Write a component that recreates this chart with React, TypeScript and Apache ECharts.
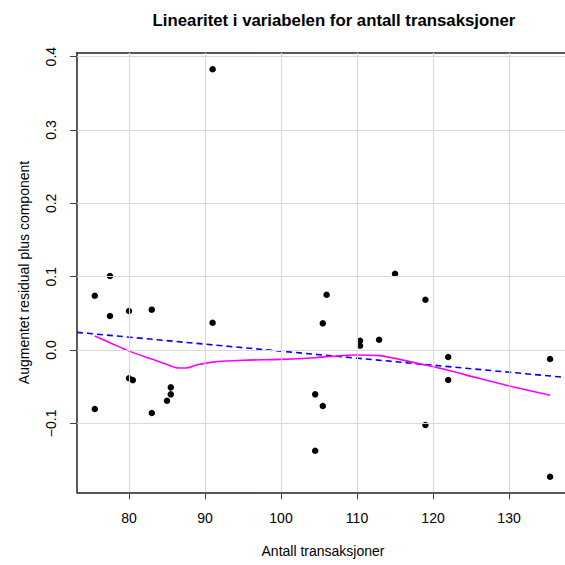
import React, { useEffect, useRef } from "react";
import * as echarts from "echarts";

// Observations: number of transactions vs. augmented component + residual
const transactions = [
  75.5, 75.5, 77.5, 77.5, 80.0, 80.0, 80.5, 83.0, 83.0, 85.0, 85.5, 85.5,
  91.0, 91.0, 104.5, 104.5, 105.5, 105.5, 106.0, 110.4, 110.4, 112.9, 115.0,
  119.0, 119.0, 122.0, 122.0, 135.4, 135.4,
];
const residuals = [
  0.074, -0.0805, 0.0464, 0.1009, 0.0532, -0.0385, -0.041, 0.055, -0.0859,
  -0.0691, -0.0604, -0.0509, 0.3828, 0.0372, -0.0604, -0.1373, 0.0364,
  -0.0764, 0.0754, 0.0127, 0.0059, 0.014, 0.104, 0.0686, -0.1023, -0.0095,
  -0.0409, -0.0123, -0.1728,
];

// Linear component (dashed) endpoints
const fitX = [73.16, 139.47];
const fitY = [0.0241, -0.0393];

// Smoothed trend of the partial residuals
const smoothX = [
  75.5, 77.5, 80, 83, 85, 86.5, 87.5, 89, 91, 95, 100, 104.5, 106, 110, 113,
  115, 119, 122, 126, 130, 135.4,
];
const smoothY = [
  0.019, 0.01, -0.0015, -0.0124, -0.0196, -0.0245, -0.0245, -0.02, -0.0165,
  -0.014, -0.0127, -0.0105, -0.009, -0.0068, -0.0077, -0.0114, -0.0205,
  -0.0277, -0.0386, -0.049, -0.0618,
];

const xTicks = [80, 90, 100, 110, 120, 130];
const yTicks = [-0.1, 0.0, 0.1, 0.2, 0.3, 0.4];

const X_MIN = 73.16;
const X_MAX = 139.47;
const Y_MIN = -0.194;
const Y_MAX = 0.4054;

const FONT = "'Liberation Sans', Arial, Helvetica, sans-serif";

const fmtY = (v: number) => {
  const s = Math.abs(v).toFixed(1);
  return v < -1e-9 ? "\u2212" + s : s;
};

export default function App() {
  const ref = useRef<HTMLDivElement>(null);

  useEffect(() => {
    if (!ref.current) return;
    const chart = echarts.init(ref.current, null, { renderer: "svg" });

    const gridColor = "#d9d9d9";
    const axisColor = "#222222";

    const option: any = {
      animation: false,
      backgroundColor: "#ffffff",
      textStyle: { fontFamily: FONT },
      title: {
        text: "Linearitet i variabelen for antall transaksjoner",
        left: 329,
        top: 7,
        textAlign: "center",
        textStyle: {
          fontFamily: FONT,
          fontWeight: "bold",
          fontSize: 16.8,
          color: "#000",
        },
      },
      grid: {
        left: 77,
        top: 52.7,
        width: 504,
        height: 439.6,
        containLabel: false,
        outerBoundsMode: "none",
      },
      xAxis: [
        {
          type: "value",
          min: X_MIN,
          max: X_MAX,
          position: "bottom",
          name: "Antall transaksjoner",
          nameLocation: "middle",
          nameGap: 52,
          nameTextStyle: {
            fontFamily: FONT,
            fontSize: 14,
            color: "#000",
            padding: [0, 12, 0, 0],
          },
          axisLine: { show: true, onZero: false, lineStyle: { color: axisColor, width: 1.5 } },
          axisTick: {
            show: true,
            length: 7,
            customValues: xTicks,
            lineStyle: { color: "#444", width: 1 },
          },
          axisLabel: {
            show: true,
            customValues: xTicks,
            margin: 19,
            fontFamily: FONT,
            fontSize: 14,
            color: "#000",
          },
          splitLine: { show: false },
        },
        {
          type: "value",
          min: X_MIN,
          max: X_MAX,
          position: "top",
          axisLine: { show: true, onZero: false, lineStyle: { color: axisColor, width: 1.5 } },
          axisTick: { show: false },
          axisLabel: { show: false },
          splitLine: { show: false },
        },
      ],
      yAxis: {
        type: "value",
        min: Y_MIN,
        max: Y_MAX,
        name: "Augmentet residual plus component",
        nameLocation: "middle",
        nameRotate: 90,
        nameGap: 46,
        nameTextStyle: { fontFamily: FONT, fontSize: 14, color: "#000" },
        axisLine: { show: true, onZero: false, lineStyle: { color: axisColor, width: 1.5 } },
        axisTick: {
          show: true,
          length: 7,
          customValues: yTicks,
          lineStyle: { color: "#444", width: 1 },
        },
        axisLabel: {
          show: true,
          customValues: yTicks,
          rotate: 90,
          margin: 19,
          fontFamily: FONT,
          fontSize: 14,
          color: "#000",
          formatter: (v: number) => fmtY(v),
        },
        splitLine: { show: false },
      },
      series: [
        {
          // background grid at the tick positions
          type: "line",
          data: [],
          silent: true,
          z: 1,
          markLine: {
            silent: true,
            symbol: "none",
            animation: false,
            label: { show: false },
            lineStyle: { color: gridColor, width: 1.2, type: "solid" },
            data: [
              ...xTicks.map((v) => ({ xAxis: v })),
              ...yTicks.map((v) => ({ yAxis: v })),
            ],
          },
        },
        {
          name: "Lineær komponent",
          type: "line",
          data: fitX.map((x, i) => [x, fitY[i]]),
          showSymbol: false,
          symbol: "none",
          silent: true,
          clip: true,
          z: 3,
          lineStyle: { color: "#0000ff", width: 1.6, type: [6, 4] },
        },
        {
          name: "Glattet",
          type: "line",
          data: smoothX.map((x, i) => [x, smoothY[i]]),
          showSymbol: false,
          symbol: "none",
          silent: true,
          smooth: 0.3,
          z: 3,
          lineStyle: { color: "#ff00ff", width: 1.6 },
        },
        {
          name: "Observasjoner",
          type: "scatter",
          data: transactions.map((x, i) => [x, residuals[i]]),
          symbol: "circle",
          symbolSize: 6.5,
          z: 4,
          itemStyle: { color: "#000000", opacity: 1 },
        },
      ],
    };

    chart.setOption(option);
    return () => chart.dispose();
  }, []);

  return (
    <div
      ref={ref}
      style={{ position: "fixed", left: 0, top: 0, width: 565, height: 565, background: "#fff" }}
    />
  );
}
